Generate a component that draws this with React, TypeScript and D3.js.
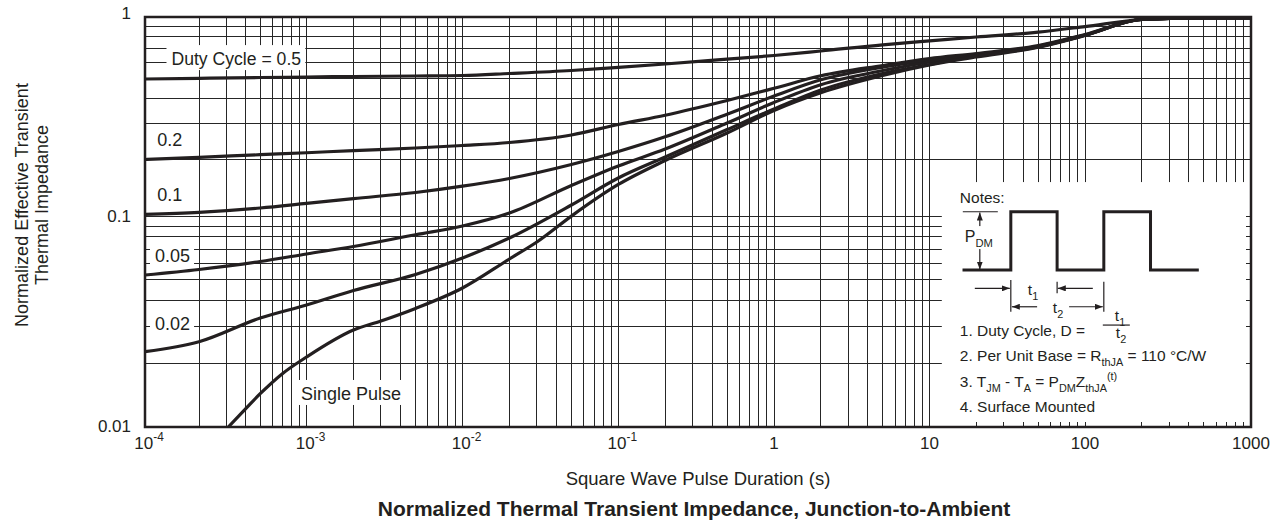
import React, { useEffect, useRef } from 'react';
import * as d3 from 'd3';

// ---------- data ----------
const pulseDuration = [1e-4, 2e-4, 5e-4, 1e-3, 2e-3, 5e-3, 1e-2, 2e-2, 5e-2, 0.1, 0.2, 0.5, 1, 2, 5, 10, 20, 50, 100, 200, 500, 1000];
const duty05 = [0.4965, 0.5004, 0.5049, 0.5078, 0.5106, 0.5136, 0.5164, 0.5282, 0.5465, 0.566, 0.5881, 0.6209, 0.6474, 0.681, 0.7306, 0.7634, 0.7978, 0.8432, 0.8973, 0.9722, 0.9888, 0.991];
const duty02 = [0.2, 0.205, 0.2111, 0.2159, 0.2211, 0.2277, 0.2342, 0.2423, 0.2638, 0.297, 0.3298, 0.3894, 0.4469, 0.5148, 0.5782, 0.6251, 0.6622, 0.7247, 0.8207, 0.9722, 0.9888, 0.991];
const duty01 = [0.1025, 0.1052, 0.1109, 0.1173, 0.1243, 0.1339, 0.1446, 0.1588, 0.1882, 0.2189, 0.2584, 0.3336, 0.4093, 0.4919, 0.5672, 0.6133, 0.6547, 0.7191, 0.816, 0.9722, 0.9888, 0.991];
const duty005 = [0.05272, 0.056, 0.06112, 0.06636, 0.07203, 0.08195, 0.09013, 0.1043, 0.1458, 0.1848, 0.2251, 0.302, 0.3807, 0.4655, 0.5465, 0.6017, 0.6474, 0.7166, 0.8141, 0.9722, 0.9888, 0.991];
const duty002 = [0.02279, 0.02542, 0.03294, 0.03798, 0.04451, 0.05302, 0.06351, 0.07903, 0.115, 0.1597, 0.2057, 0.2806, 0.3537, 0.4384, 0.5282, 0.5848, 0.6437, 0.7125, 0.8132, 0.9722, 0.9888, 0.991];
const singlePulseDuration = [3.1e-4, 4e-4, 5e-4, 7e-4, 1e-3, 2e-3, 3e-3, 5e-3, 1e-2, 2e-2, 3e-2, 5e-2, 0.1, 0.2, 0.5, 1, 2, 5, 10, 20, 50, 100, 200, 500, 1000];
const singlePulse = [0.01, 0.01216, 0.01439, 0.01797, 0.0215, 0.02889, 0.03189, 0.0366, 0.04574, 0.06282, 0.07564, 0.1005, 0.1476, 0.1976, 0.2697, 0.3478, 0.4249, 0.5164, 0.5814, 0.6366, 0.7102, 0.8115, 0.9722, 0.9888, 0.991];

const xTickValues = [1e-4, 1e-3, 1e-2, 1e-1, 1, 10, 100, 1000];
const xTickBase = ['10', '10', '10', '10', '1', '10', '100', '1000'];
const xTickExp = ['-4', '-3', '-2', '-1', '', '', '', ''];
const yTickValues = [1, 0.1, 0.01];
const yTickLabels = ['1', '0.1', '0.01'];

const curveLabels = ['Duty Cycle = 0.5', '0.2', '0.1', '0.05', '0.02', 'Single Pulse'];
const curveLabelAnchors: [number, number][] = [
  [1.405e-4, 0.581], [1.17e-4, 0.233], [1.17e-4, 0.1208], [1.137e-4, 0.0608], [1.137e-4, 0.0289], [9.21e-4, 0.01344],
];

const xTitle = 'Square Wave Pulse Duration (s)';
const yTitle = ['Normalized Effective Transient', 'Thermal Impedance'];
const chartTitle = 'Normalized Thermal Transient Impedance, Junction-to-Ambient';

const W = 1273;
const H = 523;
const FONT = '"Liberation Sans", Arial, Helvetica, sans-serif';
const INK = '#231f20';
const GRID = '#262626';

type Seg = [string, 'n' | 'sub' | 'sup'];

export default function App() {
  const ref = useRef<SVGSVGElement | null>(null);

  useEffect(() => {
    const svg = d3.select(ref.current as SVGSVGElement);
    svg.selectAll('*').remove();

    // scale calibrated on the reference's decade lines
    const x = d3.scaleLog()
      .domain([1e-4, 2e-4, 1e-3, 1e-2, 1e-1, 1, 10, 100, 200, 1000])
      .range([145, 199, 306.5, 462.5, 618.3, 774, 929.5, 1085, 1141.7, 1251]);
    const y = d3.scaleLog()
      .domain([1, 0.2, 0.1, 0.01])
      .range([17, 159.5, 216.5, 427]);

    const xL = x(1e-4), xR = x(1000), yT = y(1), yB = y(0.01);

    const rich = (parent: any, px: number, py: number, segs: Seg[], size: number, anchor = 'start') => {
      const t = parent.append('text')
        .attr('x', px).attr('y', py)
        .attr('font-family', FONT).attr('font-size', size)
        .attr('fill', INK).attr('text-anchor', anchor);
      let cur = 0;
      segs.forEach(([s, k]) => {
        const target = k === 'sub' ? size * 0.3 : k === 'sup' ? -size * 0.45 : 0;
        t.append('tspan')
          .attr('dy', target - cur)
          .attr('font-size', k === 'n' ? size : size * 0.7)
          .text(s);
        cur = target;
      });
      return t;
    };

    const defs = svg.append('defs');
    defs.append('clipPath').attr('id', 'plotClip')
      .append('rect').attr('x', xL).attr('y', yT).attr('width', xR - xL).attr('height', yB - yT);
    defs.append('marker').attr('id', 'arw')
      .attr('viewBox', '0 0 8 6').attr('refX', 8).attr('refY', 3)
      .attr('markerWidth', 8).attr('markerHeight', 6)
      .attr('markerUnits', 'userSpaceOnUse')
      .attr('orient', 'auto-start-reverse')
      .append('path').attr('d', 'M0,0 L8,3 L0,6 Z').attr('fill', INK);

    svg.append('rect').attr('width', W).attr('height', H).attr('fill', '#fff');

    // grid values
    const xGrid: number[] = [];
    for (let e = -4; e < 3; e++) for (let m = 1; m <= 9; m++) xGrid.push(m * Math.pow(10, e));
    xGrid.push(1000);
    const yGrid: number[] = [];
    for (let e = -2; e < 0; e++) for (let m = 1; m <= 9; m++) yGrid.push(m * Math.pow(10, e));
    yGrid.push(1);

    const grid = svg.append('g').attr('stroke', GRID).attr('stroke-width', 1).attr('shape-rendering', 'crispEdges');
    grid.selectAll('line.v').data(xGrid).join('line')
      .attr('x1', (d) => x(d)).attr('x2', (d) => x(d)).attr('y1', yT).attr('y2', yB);
    grid.selectAll('line.h').data(yGrid).join('line').attr('class', 'h')
      .attr('x1', xL).attr('x2', xR).attr('y1', (d) => y(d)).attr('y2', (d) => y(d));

    // curve labels with white backgrounds
    const lab = svg.append('g');
    curveLabels.forEach((txt, i) => {
      const [ax, ay] = curveLabelAnchors[i];
      const g = lab.append('g');
      const t = g.append('text')
        .attr('x', x(ax)).attr('y', y(ay))
        .attr('font-family', FONT).attr('font-size', i === 0 ? 17.6 : 18)
        .attr('fill', INK).text(txt);
      const bb = (t.node() as SVGTextElement).getBBox();
      g.insert('rect', 'text')
        .attr('x', bb.x - 5).attr('y', bb.y - 4)
        .attr('width', bb.width + 9).attr('height', bb.height + 5)
        .attr('fill', '#fff');
    });

    // notes box (white area)
    const bx = x(12), by = y(0.152);
    svg.append('rect').attr('x', bx).attr('y', by).attr('width', xR - bx).attr('height', yB - by).attr('fill', '#fff');

    // border ticks (visible where grid is masked)
    const ticks = svg.append('g').attr('stroke', GRID).attr('stroke-width', 1).attr('shape-rendering', 'crispEdges');
    const tl = 5;
    xGrid.forEach((v) => {
      ticks.append('line').attr('x1', x(v)).attr('x2', x(v)).attr('y1', yB).attr('y2', yB - tl);
      ticks.append('line').attr('x1', x(v)).attr('x2', x(v)).attr('y1', yT).attr('y2', yT + tl);
    });
    yGrid.forEach((v) => {
      ticks.append('line').attr('x1', xL).attr('x2', xL + tl).attr('y1', y(v)).attr('y2', y(v));
      ticks.append('line').attr('x1', xR).attr('x2', xR - tl).attr('y1', y(v)).attr('y2', y(v));
    });

    // curves
    const series: [number[], number[]][] = [
      [pulseDuration, duty05],
      [pulseDuration, duty02],
      [pulseDuration, duty01],
      [pulseDuration, duty005],
      [pulseDuration, duty002],
      [singlePulseDuration, singlePulse],
    ];
    const line = d3.line<[number, number]>()
      .x((d) => x(d[0])).y((d) => y(d[1]))
      .curve(d3.curveMonotoneX);
    const cg = svg.append('g').attr('clip-path', 'url(#plotClip)');
    series.forEach(([xs, ys]) => {
      const pts = xs.map((v, i) => [v, ys[i]] as [number, number]);
      cg.append('path').attr('d', line(pts) as string)
        .attr('fill', 'none').attr('stroke', INK).attr('stroke-width', 3.2)
        .attr('stroke-linejoin', 'round').attr('stroke-linecap', 'butt');
    });

    // frame
    svg.append('rect').attr('x', xL).attr('y', yT).attr('width', xR - xL).attr('height', yB - yT)
      .attr('fill', 'none').attr('stroke', INK).attr('stroke-width', 2.5);

    // axis tick labels
    yTickValues.forEach((v, i) => {
      svg.append('text').attr('x', 131).attr('y', y(v) + (v === 1 ? 2 : 5))
        .attr('font-family', FONT).attr('font-size', 17).attr('fill', INK)
        .attr('text-anchor', 'end').text(yTickLabels[i]);
    });
    xTickValues.forEach((v, i) => {
      const segs: Seg[] = [[xTickBase[i], 'n']];
      if (xTickExp[i]) segs.push([xTickExp[i], 'sup']);
      rich(svg, x(v) + (xTickExp[i] ? 4 : 0), 449, segs, 17, 'middle');
    });

    // titles
    svg.append('text').attr('x', (xL + xR) / 2).attr('y', 485)
      .attr('font-family', FONT).attr('font-size', 18.5).attr('fill', INK)
      .attr('text-anchor', 'middle').text(xTitle);
    svg.append('text').attr('x', (xL + xR) / 2 - 4).attr('y', 516)
      .attr('font-family', FONT).attr('font-size', 21).attr('font-weight', 'bold').attr('fill', INK)
      .attr('text-anchor', 'middle').text(chartTitle);
    yTitle.forEach((s, i) => {
      svg.append('text').attr('transform', `translate(${28 + i * 20},205) rotate(-90)`)
        .attr('font-family', FONT).attr('font-size', 18).attr('fill', INK)
        .attr('text-anchor', 'middle').text(s);
    });

    // notes
    const n = svg.append('g').attr('transform', `translate(${bx},${by})`);
    n.append('text').attr('x', 18).attr('y', 21).attr('font-family', FONT).attr('font-size', 15.5).attr('fill', INK).text('Notes:');
    n.append('path')
      .attr('d', 'M20.7,88 H69 V29.7 H115.3 V88 H162 V29.7 H208.7 V88 H257')
      .attr('fill', 'none').attr('stroke', INK).attr('stroke-width', 3).attr('stroke-linejoin', 'miter');
    n.append('line').attr('x1', 21).attr('x2', 56).attr('y1', 29.7).attr('y2', 29.7).attr('stroke', INK).attr('stroke-width', 1.2);
    n.append('line').attr('x1', 38).attr('x2', 38).attr('y1', 30.5).attr('y2', 87.5)
      .attr('stroke', INK).attr('stroke-width', 1.2)
      .attr('marker-start', 'url(#arw)').attr('marker-end', 'url(#arw)');
    n.append('rect').attr('x', 22).attr('y', 44).attr('width', 35).attr('height', 23).attr('fill', '#fff');
    rich(n, 23, 60, [['P', 'n'], ['DM', 'sub']], 16);

    const thin = (x1: number, y1: number, x2: number, y2: number) =>
      n.append('line').attr('x1', x1).attr('y1', y1).attr('x2', x2).attr('y2', y2)
        .attr('stroke', INK).attr('stroke-width', 1.2);
    thin(69, 98, 69, 129.7);
    thin(115.3, 99.7, 115.3, 111.3);
    thin(162, 99.7, 162, 129.7);
    thin(33, 106.3, 68, 106.3).attr('marker-end', 'url(#arw)');
    thin(151, 106.3, 116, 106.3).attr('marker-end', 'url(#arw)');
    thin(95.3, 124.7, 70, 124.7).attr('marker-end', 'url(#arw)');
    thin(127.3, 124.7, 161, 124.7).attr('marker-end', 'url(#arw)');
    rich(n, 86, 113, [['t', 'n'], ['1', 'sub']], 15.5);
    rich(n, 111, 131, [['t', 'n'], ['2', 'sub']], 15.5);

    rich(n, 18, 154, [['1. Duty Cycle, D =', 'n']], 15.5);
    rich(n, 173, 139, [['t', 'n'], ['1', 'sub']], 15.5);
    thin(161, 143, 188, 143);
    rich(n, 174, 156, [['t', 'n'], ['2', 'sub']], 15.5);
    rich(n, 18, 179, [['2. Per Unit Base = R', 'n'], ['thJA', 'sub'], [' = 110 \u00B0C/W', 'n']], 15.5);
    rich(n, 18, 205, [['3. T', 'n'], ['JM', 'sub'], [' - T', 'n'], ['A', 'sub'], [' = P', 'n'], ['DM', 'sub'], ['Z', 'n'], ['thJA', 'sub'], ['(t)', 'sup']], 15.5);
    rich(n, 18, 230, [['4. Surface Mounted', 'n']], 15.5);
  }, []);

  return (
    <svg
      ref={ref}
      width={W}
      height={H}
      style={{ position: 'absolute', left: 0, top: 0, background: '#fff' }}
    />
  );
}
